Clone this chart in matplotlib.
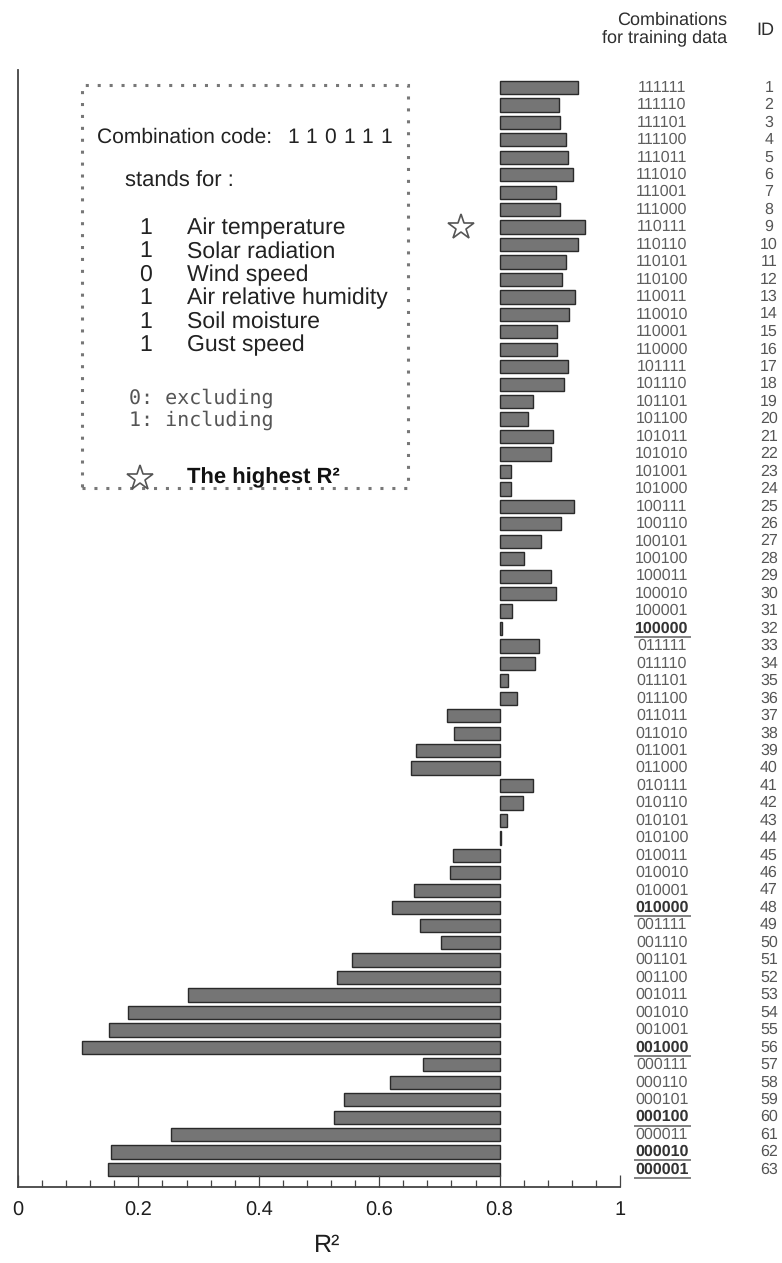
import matplotlib
matplotlib.use("Agg")
import matplotlib.pyplot as plt
from matplotlib.patches import Rectangle
from matplotlib.lines import Line2D
from matplotlib.ticker import MultipleLocator
import numpy as np

plt.rcParams['font.family'] = ['Liberation Sans', 'DejaVu Sans']
plt.rcParams['text.hinting'] = 'no_hinting'
plt.rcParams['text.hinting_factor'] = 1

# ---- data -------------------------------------------------------------
codes = [
    "111111", "111110", "111101", "111100", "111011", "111010", "111001", "111000",
    "110111", "110110", "110101", "110100", "110011", "110010", "110001", "110000",
    "101111", "101110", "101101", "101100", "101011", "101010", "101001", "101000",
    "100111", "100110", "100101", "100100", "100011", "100010", "100001", "100000",
    "011111", "011110", "011101", "011100", "011011", "011010", "011001", "011000",
    "010111", "010110", "010101", "010100", "010011", "010010", "010001", "010000",
    "001111", "001110", "001101", "001100", "001011", "001010", "001001", "001000",
    "000111", "000110", "000101", "000100", "000011", "000010", "000001",
]
ids = list(range(1, 64))
r2 = [
    0.930, 0.898, 0.901, 0.910, 0.914, 0.922, 0.894, 0.901,
    0.942, 0.931, 0.911, 0.904, 0.925, 0.916, 0.896, 0.895,
    0.914, 0.907, 0.856, 0.848, 0.888, 0.885, 0.819, 0.819,
    0.924, 0.902, 0.868, 0.840, 0.885, 0.894, 0.820, 0.804,
    0.865, 0.858, 0.814, 0.829, 0.713, 0.724, 0.661, 0.652,
    0.856, 0.839, 0.813, 0.803, 0.723, 0.717, 0.658, 0.622,
    0.668, 0.703, 0.555, 0.530, 0.282, 0.182, 0.151, 0.106,
    0.673, 0.618, 0.541, 0.525, 0.254, 0.155, 0.150,
]
baseline = 0.8
variables = ["Air temperature", "Solar radiation", "Wind speed",
             "Air relative humidity", "Soil moisture", "Gust speed"]
example_code = "110111"
x_ticks = [0, 0.2, 0.4, 0.6, 0.8, 1]
x_tick_labels = ["0", "0.2", "0.4", "0.6", "0.8", "1"]

# ---- figure -----------------------------------------------------------
W, H = 782, 1263
fig = plt.figure(figsize=(W / 100, H / 100), dpi=100)


def fx(x):
    return x / W


def fy(y):
    return 1 - y / H


ax_left, ax_right, ax_top, ax_bottom = 18, 620, 70, 1187
ax = fig.add_axes([fx(ax_left), fy(ax_bottom), (ax_right - ax_left) / W,
                   (ax_bottom - ax_top) / H])

rows = np.array(ids)
vals = np.array(r2)
ax.barh(rows, vals - baseline, left=baseline, height=0.76,
        color='#757575', edgecolor='#2a2a2a', linewidth=1.0)

ax.set_xlim(0, 1)
ax.set_ylim(64.0, 0.0)

for side in ('top', 'right'):
    ax.spines[side].set_visible(False)
for side in ('left', 'bottom'):
    ax.spines[side].set_color('#444444')
    ax.spines[side].set_linewidth(1.3)

ax.set_yticks([])
ax.set_xticks(x_ticks)
ax.set_xticklabels(x_tick_labels)
ax.xaxis.set_minor_locator(MultipleLocator(0.04))
ax.tick_params(axis='x', which='major', direction='in', length=8.6, width=0.9,
               color='#444444', labelsize=14.5, labelcolor='#1e1e1e', pad=10)
ax.tick_params(axis='x', which='minor', direction='in', length=5, width=0.9,
               color='#444444')

fig.text(fx(327), fy(1246), "R²", fontsize=18, color='#1e1e1e',
         ha='center', va='center')

# star beside the best combination
best = int(np.argmax(vals))
ax.plot([0.736], [rows[best]], marker='*', markersize=19,
        markerfacecolor='white', markeredgecolor='#555555',
        markeredgewidth=1.2, clip_on=False)

# combination codes and IDs on the right
trans = ax.get_yaxis_transform()
code_x = (662 - ax_left) / (ax_right - ax_left)
id_x = (769 - ax_left) / (ax_right - ax_left)
ul_x0 = (635 - ax_left) / (ax_right - ax_left)
ul_x1 = (690 - ax_left) / (ax_right - ax_left)
for row, code in zip(rows, codes):
    single = code.count('1') == 1
    ax.text(code_x, row, code, transform=trans, ha='center', va='center',
            fontsize=11.2, color='#333333' if single else '#5e5e5e',
            fontweight='bold' if single else 'normal', clip_on=False)
    ax.text(id_x, row, str(row), transform=trans, ha='center', va='center',
            fontsize=11.2, color='#555555', clip_on=False)
    if single:
        ax.plot([ul_x0, ul_x1], [row + 0.48, row + 0.48], transform=trans,
                color='#808080', linewidth=1.4, clip_on=False)

fig.text(fx(727), fy(29), "Combinations\nfor training data", fontsize=13,
         color='#2e2e2e', ha='right', va='center', multialignment='right',
         linespacing=1.0)
fig.text(fx(765), fy(30), "ID", fontsize=13, color='#2e2e2e',
         ha='center', va='center')

# ---- explanatory box --------------------------------------------------
box = Rectangle((fx(82), fy(488)), (408 - 82) / W, (488 - 85) / H,
                transform=fig.transFigure, fill=False, edgecolor='#777777',
                linewidth=2.2, linestyle=(0, (1, 2.9)))
box.set_capstyle('butt')
fig.add_artist(box)

txt_color = '#222222'
code_baseline = 143
fig.text(fx(97), fy(code_baseline), "Combination code:", fontsize=15.2,
         color=txt_color, va='baseline')
for k, digit in enumerate(example_code):
    fig.text(fx(287 + 18.7 * k), fy(code_baseline), digit, fontsize=15.2,
             color=txt_color, va='baseline')
fig.text(fx(125), fy(181), "stands for :", fontsize=15.5, color=txt_color,
         va='center')
for i, (digit, name) in enumerate(zip(example_code, variables)):
    y = 228 + 23.5 * i
    fig.text(fx(139), fy(y), digit, fontsize=16.3, color=txt_color, va='center')
    fig.text(fx(187), fy(y), name, fontsize=16.3, color=txt_color, va='center')

fig.text(fx(129), fy(398), "0: excluding", fontsize=14.5, color='#555555',
         va='center', family='DejaVu Sans Mono')
fig.text(fx(129), fy(420), "1: including", fontsize=14.5, color='#555555',
         va='center', family='DejaVu Sans Mono')

fig.add_artist(Line2D([fx(139.5)], [fy(478)], marker='*', markersize=19,
                      markerfacecolor='white', markeredgecolor='#555555',
                      markeredgewidth=1.2, transform=fig.transFigure))
fig.text(fx(187), fy(478), "The highest R²", fontsize=15.5, color='#111111',
         fontweight='bold', va='center')

fig.savefig("out.png", dpi=100)
